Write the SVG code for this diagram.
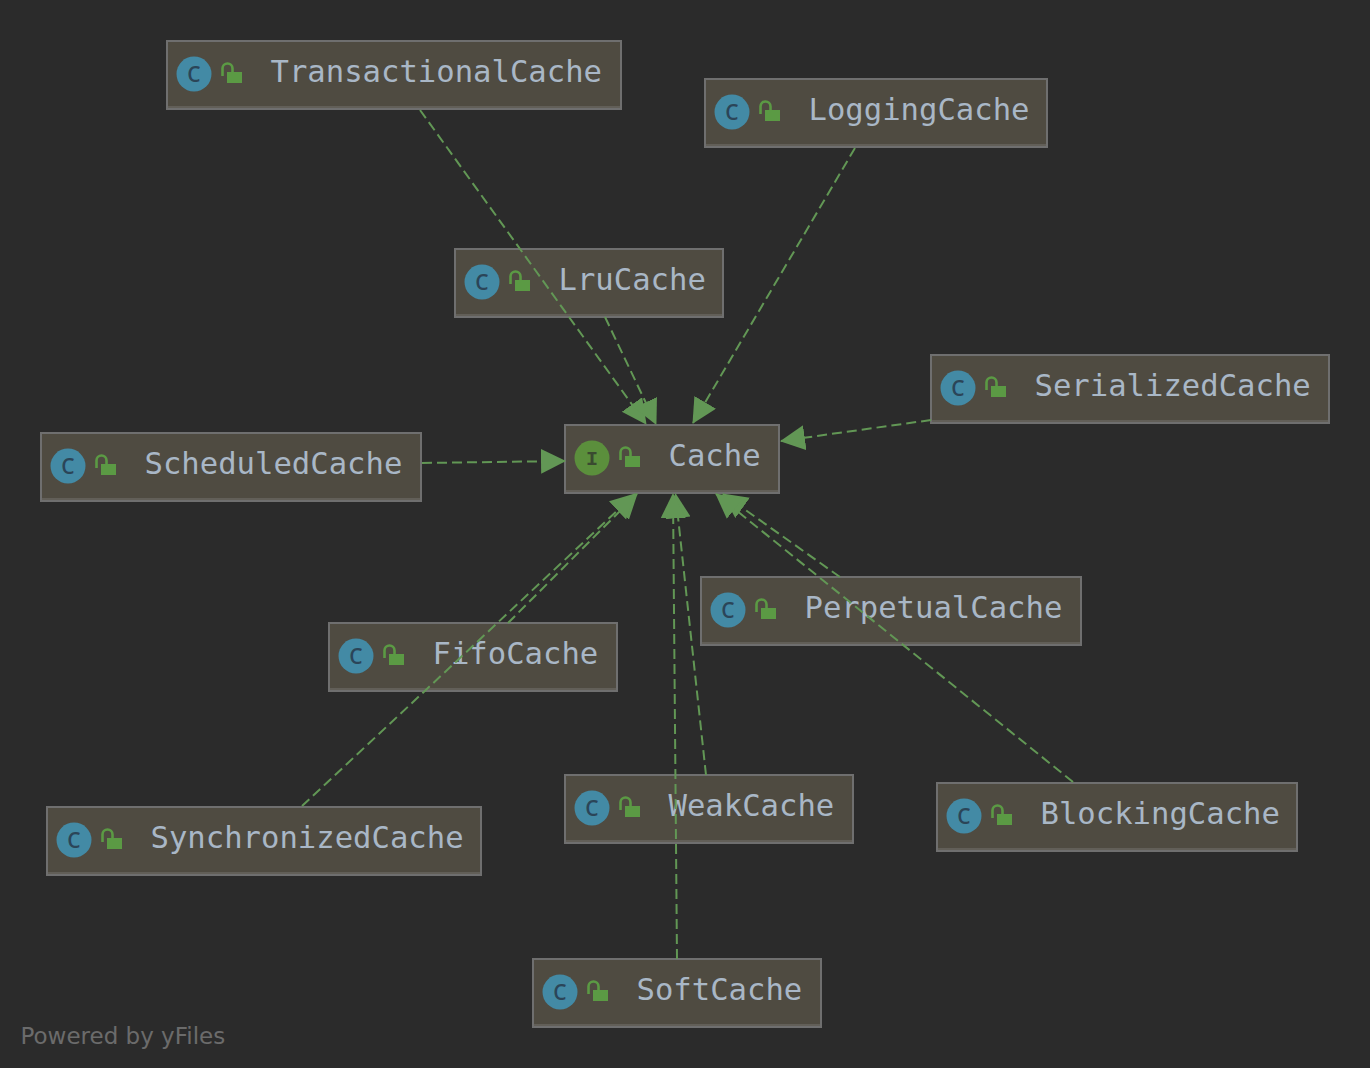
<svg xmlns="http://www.w3.org/2000/svg" width="1370" height="1068" viewBox="0 0 1370 1068">
<style>
.box{fill:#4f4b41;stroke:#6f6f6f;stroke-width:2}
.sh{stroke:#625f58;stroke-width:2;fill:none}
.cc{fill:#438aa5}
.ci{fill:#5b8f3c}
.gc{font-family:"Open Sans","Liberation Sans",sans-serif;font-size:21px;font-weight:600;fill:#2b4558;text-anchor:middle}
.gi{font-family:"Liberation Mono",monospace;font-size:20px;font-weight:700;fill:#3a4a30;text-anchor:middle}
.t{font-family:"DejaVu Sans Mono",monospace;font-size:30.6px;fill:#a9b7c6}
.e{fill:none;stroke:#629755;stroke-width:2;stroke-dasharray:10 5}
.foot{font-family:"DejaVu Sans",sans-serif;font-size:23px;fill:#6b6b6b}
</style>
<defs>
<g id="lock"><rect x="60" y="31" width="15" height="11" fill="#5b9a44"/><path d="M55.500 35V27.500a5 5 0 0 1 10 0V31" fill="none" stroke="#5b9a44" stroke-width="2.600"/></g>
<marker id="a" markerUnits="userSpaceOnUse" markerWidth="26" markerHeight="26" refX="24" refY="12.500" orient="auto"><path d="M0 0L25 12.500L0 25Z" fill="#629755"/></marker>
</defs>
<rect width="1370" height="1068" fill="#2b2b2b"/>
<g id="node-TransactionalCache" transform="translate(167 41)"><rect class="box" width="454" height="68"/><path class="sh" d="M1 66H453"/><circle class="cc" cx="27" cy="33" r="17.500"/><text class="gc" x="27" y="40.500">C</text><use href="#lock"/><text class="t" x="103.500" y="41">TransactionalCache</text></g>
<g id="node-LoggingCache" transform="translate(705 79)"><rect class="box" width="342" height="68"/><path class="sh" d="M1 66H341"/><circle class="cc" cx="27" cy="33" r="17.500"/><text class="gc" x="27" y="40.500">C</text><use href="#lock"/><text class="t" x="103.500" y="41">LoggingCache</text></g>
<g id="node-LruCache" transform="translate(455 249)"><rect class="box" width="268" height="68"/><path class="sh" d="M1 66H267"/><circle class="cc" cx="27" cy="33" r="17.500"/><text class="gc" x="27" y="40.500">C</text><use href="#lock"/><text class="t" x="103.500" y="41">LruCache</text></g>
<g id="node-SerializedCache" transform="translate(931 355)"><rect class="box" width="398" height="68"/><path class="sh" d="M1 66H397"/><circle class="cc" cx="27" cy="33" r="17.500"/><text class="gc" x="27" y="40.500">C</text><use href="#lock"/><text class="t" x="103.500" y="41">SerializedCache</text></g>
<g id="node-Cache" transform="translate(565 425)"><rect class="box" width="214" height="68"/><path class="sh" d="M1 66H213"/><circle class="ci" cx="27" cy="33" r="17.500"/><text class="gi" x="27" y="39.500">I</text><use href="#lock"/><text class="t" x="103.500" y="41">Cache</text></g>
<g id="node-ScheduledCache" transform="translate(41 433)"><rect class="box" width="380" height="68"/><path class="sh" d="M1 66H379"/><circle class="cc" cx="27" cy="33" r="17.500"/><text class="gc" x="27" y="40.500">C</text><use href="#lock"/><text class="t" x="103.500" y="41">ScheduledCache</text></g>
<g id="node-PerpetualCache" transform="translate(701 577)"><rect class="box" width="380" height="68"/><path class="sh" d="M1 66H379"/><circle class="cc" cx="27" cy="33" r="17.500"/><text class="gc" x="27" y="40.500">C</text><use href="#lock"/><text class="t" x="103.500" y="41">PerpetualCache</text></g>
<g id="node-FifoCache" transform="translate(329 623)"><rect class="box" width="288" height="68"/><path class="sh" d="M1 66H287"/><circle class="cc" cx="27" cy="33" r="17.500"/><text class="gc" x="27" y="40.500">C</text><use href="#lock"/><text class="t" x="103.500" y="41">FifoCache</text></g>
<g id="node-SynchronizedCache" transform="translate(47 807)"><rect class="box" width="434" height="68"/><path class="sh" d="M1 66H433"/><circle class="cc" cx="27" cy="33" r="17.500"/><text class="gc" x="27" y="40.500">C</text><use href="#lock"/><text class="t" x="103.500" y="41">SynchronizedCache</text></g>
<g id="node-WeakCache" transform="translate(565 775)"><rect class="box" width="288" height="68"/><path class="sh" d="M1 66H287"/><circle class="cc" cx="27" cy="33" r="17.500"/><text class="gc" x="27" y="40.500">C</text><use href="#lock"/><text class="t" x="103.500" y="41">WeakCache</text></g>
<g id="node-BlockingCache" transform="translate(937 783)"><rect class="box" width="360" height="68"/><path class="sh" d="M1 66H359"/><circle class="cc" cx="27" cy="33" r="17.500"/><text class="gc" x="27" y="40.500">C</text><use href="#lock"/><text class="t" x="103.500" y="41">BlockingCache</text></g>
<g id="node-SoftCache" transform="translate(533 959)"><rect class="box" width="288" height="68"/><path class="sh" d="M1 66H287"/><circle class="cc" cx="27" cy="33" r="17.500"/><text class="gc" x="27" y="40.500">C</text><use href="#lock"/><text class="t" x="103.500" y="41">SoftCache</text></g>
<g id="connectors">
<path class="e" marker-end="url(#a)" d="M420 110L646 424"/>
<path class="e" marker-end="url(#a)" d="M605 317L656 424"/>
<path class="e" marker-end="url(#a)" d="M855 148L693 423"/>
<path class="e" marker-end="url(#a)" d="M931 420L781 441"/>
<path class="e" marker-end="url(#a)" d="M422 463L565 461"/>
<path class="e" marker-end="url(#a)" d="M840 577L723 494"/>
<path class="e" marker-end="url(#a)" d="M1073 782L716 494"/>
<path class="e" marker-end="url(#a)" d="M508 623L637 494"/>
<path class="e" marker-end="url(#a)" d="M302 806L635 494"/>
<path class="e" marker-end="url(#a)" d="M706 775L675.500 494"/>
<path class="e" marker-end="url(#a)" d="M677 959L673 494"/>
</g>
<text class="foot" x="20.500" y="1044">Powered by yFiles</text>
</svg>
